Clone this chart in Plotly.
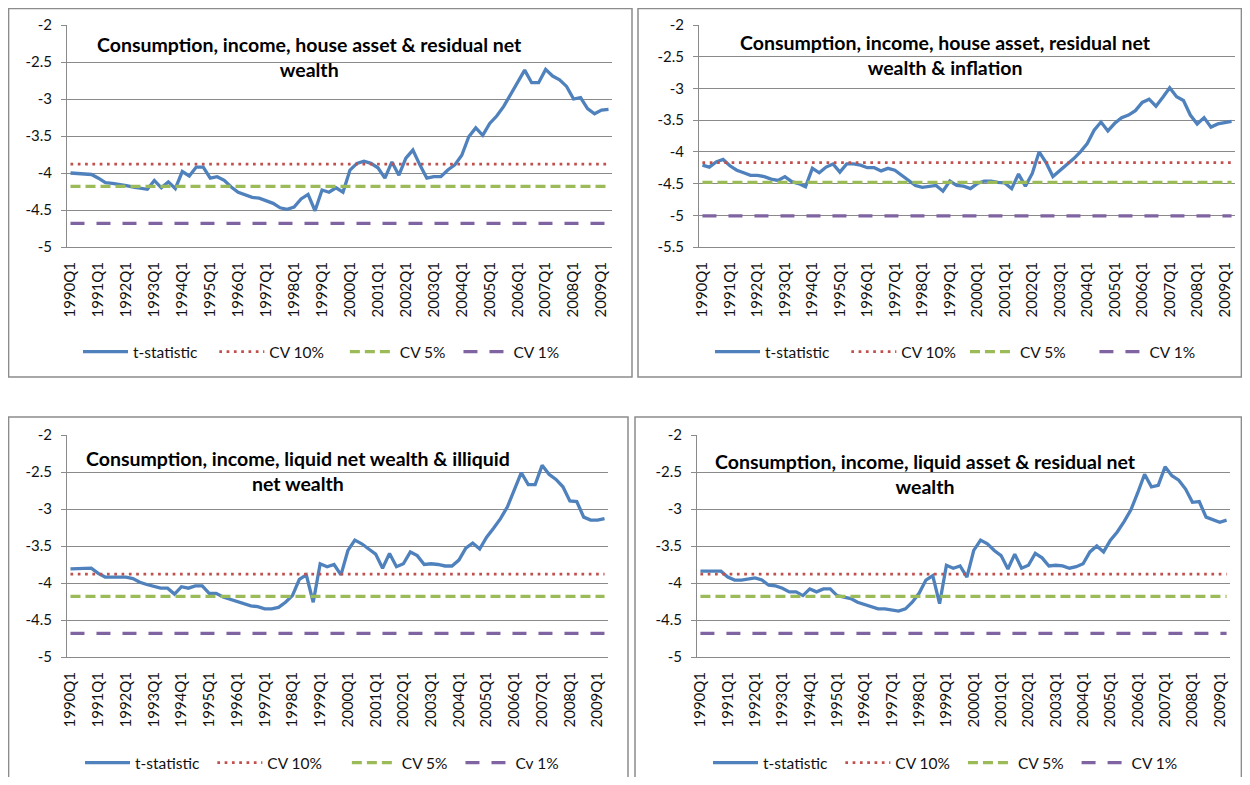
import plotly.graph_objects as go

# ---------------- data ----------------
years = list(range(1990, 2010))
quarters = [f"{y}Q{q}" for y in years for q in (1, 2, 3, 4)][:78]   # 1990Q1 .. 2009Q2
tick_labels = [f"{y}Q1" for y in years]

titles = [
    "Consumption, income, house asset & residual net<br>wealth",
    "Consumption, income, house asset, residual net<br>wealth & inflation",
    "Consumption, income, liquid net wealth & illiquid<br>net wealth",
    "Consumption, income, liquid asset & residual net<br>wealth",
]

tstat_1 = [-4.00, -4.01, -4.02, -4.02, -4.07, -4.13, -4.14, -4.15, -4.17, -4.19, -4.20, -4.22,
           -4.10, -4.20, -4.12, -4.21, -3.98, -4.04, -3.92, -3.92, -4.07, -4.05, -4.10, -4.19,
           -4.26, -4.30, -4.33, -4.34, -4.37, -4.41, -4.47, -4.49, -4.46, -4.35, -4.29, -4.51,
           -4.23, -4.26, -4.20, -4.26, -3.96, -3.87, -3.84, -3.87, -3.93, -4.07, -3.85, -4.03,
           -3.80, -3.69, -3.89, -4.07, -4.05, -4.05, -3.96, -3.89, -3.76, -3.51, -3.39, -3.49,
           -3.33, -3.23, -3.10, -2.94, -2.77, -2.61, -2.78, -2.78, -2.60, -2.69, -2.74, -2.83,
           -3.00, -2.98, -3.13, -3.20, -3.15, -3.14]
tstat_2 = [-4.21, -4.24, -4.16, -4.12, -4.22, -4.29, -4.33, -4.37, -4.37, -4.39, -4.43, -4.45,
           -4.39, -4.47, -4.50, -4.55, -4.26, -4.33, -4.24, -4.19, -4.32, -4.19, -4.19, -4.21,
           -4.25, -4.25, -4.30, -4.26, -4.29, -4.37, -4.45, -4.53, -4.56, -4.55, -4.53, -4.62,
           -4.46, -4.53, -4.54, -4.58, -4.50, -4.46, -4.46, -4.48, -4.49, -4.58, -4.35, -4.54,
           -4.34, -4.00, -4.17, -4.39, -4.30, -4.20, -4.11, -4.00, -3.87, -3.66, -3.53, -3.67,
           -3.55, -3.46, -3.42, -3.35, -3.22, -3.17, -3.28, -3.14, -2.99, -3.13, -3.19, -3.42,
           -3.56, -3.46, -3.61, -3.56, -3.54, -3.52]
tstat_3 = [-3.81, -3.81, -3.81, -3.80, -3.87, -3.92, -3.92, -3.92, -3.92, -3.94, -3.99, -4.02,
           -4.04, -4.07, -4.07, -4.15, -4.05, -4.07, -4.04, -4.04, -4.14, -4.14, -4.19, -4.22,
           -4.26, -4.29, -4.31, -4.32, -4.35, -4.35, -4.33, -4.26, -4.17, -3.95, -3.89, -4.26,
           -3.74, -3.78, -3.75, -3.89, -3.56, -3.42, -3.47, -3.54, -3.61, -3.80, -3.60, -3.78,
           -3.74, -3.58, -3.63, -3.75, -3.74, -3.75, -3.77, -3.77, -3.69, -3.53, -3.46, -3.54,
           -3.38, -3.26, -3.13, -2.97, -2.73, -2.51, -2.67, -2.67, -2.41, -2.53, -2.60, -2.70,
           -2.89, -2.90, -3.11, -3.15, -3.15, -3.13]
tstat_4 = [-3.84, -3.84, -3.85, -3.84, -3.92, -3.96, -3.96, -3.95, -3.93, -3.96, -4.03, -4.04,
           -4.07, -4.12, -4.12, -4.17, -4.08, -4.12, -4.08, -4.08, -4.17, -4.19, -4.21, -4.26,
           -4.29, -4.31, -4.35, -4.35, -4.37, -4.38, -4.35, -4.26, -4.14, -3.96, -3.90, -4.28,
           -3.76, -3.80, -3.77, -3.92, -3.56, -3.42, -3.47, -3.56, -3.63, -3.81, -3.61, -3.80,
           -3.76, -3.60, -3.66, -3.77, -3.76, -3.77, -3.80, -3.78, -3.74, -3.58, -3.50, -3.58,
           -3.42, -3.31, -3.17, -3.01, -2.78, -2.53, -2.70, -2.68, -2.43, -2.55, -2.61, -2.73,
           -2.91, -2.90, -3.11, -3.15, -3.18, -3.15]

cv10 = [-3.88, -4.17, -3.88, -3.88]
cv5 = [-4.18, -4.48, -4.18, -4.18]
cv1 = [-4.68, -5.01, -4.68, -4.68]
cv1_names = ["CV 1%", "CV 1%", "Cv 1%", "CV 1%"]

y_ranges = [(-5, -2), (-5.5, -2), (-5, -2), (-5, -2)]
y_ticks = [[-5, -4.5, -4, -3.5, -3, -2.5, -2],
           [-5.5, -5, -4.5, -4, -3.5, -3, -2.5, -2],
           [-5, -4.5, -4, -3.5, -3, -2.5, -2],
           [-5, -4.5, -4, -3.5, -3, -2.5, -2]]

series = [tstat_1, tstat_2, tstat_3, tstat_4]

# ---------------- layout geometry (page pixels) ----------------
PAGE_MARGIN = 8                      # default <body> margin of the html page
W, H = 1250 - 2 * PAGE_MARGIN, 785 - 2 * PAGE_MARGIN


def fx(px):
    return (px - PAGE_MARGIN) / W


def fy(py):
    return 1 - (py - PAGE_MARGIN) / H


plot_boxes = [(67, 612, 25, 247), (699, 1235, 25, 247), (67, 608, 435, 657), (697, 1230, 435, 657)]
frames = [(8.6, 632, 8.6, 377), (638, 1241.4, 8.6, 377), (8.6, 628, 417, 800), (635, 1241.4, 417, 800)]
title_pos = [(309, 57), (945, 55), (298, 471), (925, 474)]
legend_left = [78, 710, 80, 708]
legend_y = [352, 352, 763, 763]
# extra spacing (non-breaking spaces) after each legend entry, per panel
legend_pad = [(3, 4, 2), (3, 1, 6), (2, 5, 2), (2, 2, 2)]

FONT = "Lato"
BLUE, RED, GREEN, PURPLE = "#4F81BD", "#C0504D", "#9BBB59", "#8064A2"
GRID = "#8a8a8a"
NB = "\u00a0"

fig = go.Figure()
layout = dict(width=W, height=H, margin=dict(l=0, r=0, t=0, b=0, autoexpand=False),
              paper_bgcolor="white", plot_bgcolor="white", shapes=[], annotations=[])

for k in range(4):
    n = k + 1
    xa = "x" if n == 1 else f"x{n}"
    ya = "y" if n == 1 else f"y{n}"
    lg = "legend" if n == 1 else f"legend{n}"
    x0, x1, y0, y1 = plot_boxes[k]
    p1, p2, p3 = legend_pad[k]

    fig.add_trace(go.Scatter(x=quarters, y=series[k], mode="lines", name="t-statistic" + NB * p1,
                             line=dict(color=BLUE, width=3.3), xaxis=xa, yaxis=ya, legend=lg))
    fig.add_trace(go.Scatter(x=quarters, y=[cv10[k]] * len(quarters), mode="lines",
                             name="CV 10%" + NB * p2,
                             line=dict(color=RED, width=2.7, dash="2.7px,4.6px"),
                             xaxis=xa, yaxis=ya, legend=lg))
    fig.add_trace(go.Scatter(x=quarters, y=[cv5[k]] * len(quarters), mode="lines",
                             name="CV 5%" + NB * p3,
                             line=dict(color=GREEN, width=3.3, dash="10px,5px"),
                             xaxis=xa, yaxis=ya, legend=lg))
    fig.add_trace(go.Scatter(x=quarters, y=[cv1[k]] * len(quarters), mode="lines", name=cv1_names[k],
                             line=dict(color=PURPLE, width=3.3, dash="14px,12px"),
                             xaxis=xa, yaxis=ya, legend=lg))

    xkey = "xaxis" if n == 1 else f"xaxis{n}"
    ykey = "yaxis" if n == 1 else f"yaxis{n}"
    layout[xkey] = dict(domain=[fx(x0), fx(x1)], anchor=ya, type="category",
                        categoryorder="array", categoryarray=quarters,
                        range=[-0.5, len(quarters) - 0.5], automargin=False,
                        tickmode="array", tickvals=tick_labels, ticktext=tick_labels,
                        tickangle=-90, showgrid=False, showline=True, linecolor=GRID, linewidth=1,
                        ticks="", tickfont=dict(family=FONT, size=15, color="#111"),
                        ticklabelstandoff=8, zeroline=False, fixedrange=True)
    layout[ykey] = dict(domain=[fy(y1), fy(y0)], anchor=xa, automargin=False,
                        range=list(y_ranges[k]), tickmode="array", tickvals=y_ticks[k],
                        ticktext=[f"{v:g}" for v in y_ticks[k]],
                        showgrid=True, gridcolor=GRID, gridwidth=1,
                        showline=True, linecolor=GRID, linewidth=1,
                        ticks="outside", ticklen=5, tickcolor=GRID,
                        tickfont=dict(family=FONT, size=15, color="#111"),
                        ticklabelstandoff=6, zeroline=False, fixedrange=True)
    layout[lg] = dict(orientation="h", xref="container", yref="container",
                      x=fx(legend_left[k]), y=fy(legend_y[k]),
                      xanchor="left", yanchor="middle", bgcolor="rgba(0,0,0,0)",
                      font=dict(family=FONT, size=15.5, color="#111"), itemwidth=45,
                      traceorder="normal")
    fx0, fx1, fy0, fy1 = frames[k]
    layout["shapes"].append(dict(type="rect", xref="paper", yref="paper",
                                 x0=fx(fx0), x1=fx(fx1), y0=fy(fy1), y1=fy(fy0),
                                 line=dict(color="#8c8c8c", width=1.5), fillcolor="rgba(0,0,0,0)",
                                 layer="below"))
    layout["annotations"].append(dict(text="<b>" + titles[k] + "</b>", xref="paper", yref="paper",
                                      x=fx(title_pos[k][0]), y=fy(title_pos[k][1]),
                                      xanchor="center", yanchor="middle", align="center",
                                      showarrow=False,
                                      font=dict(family=FONT, size=19.5, color="#000")))

fig.update_layout(**layout)
fig.write_html("out.html")
